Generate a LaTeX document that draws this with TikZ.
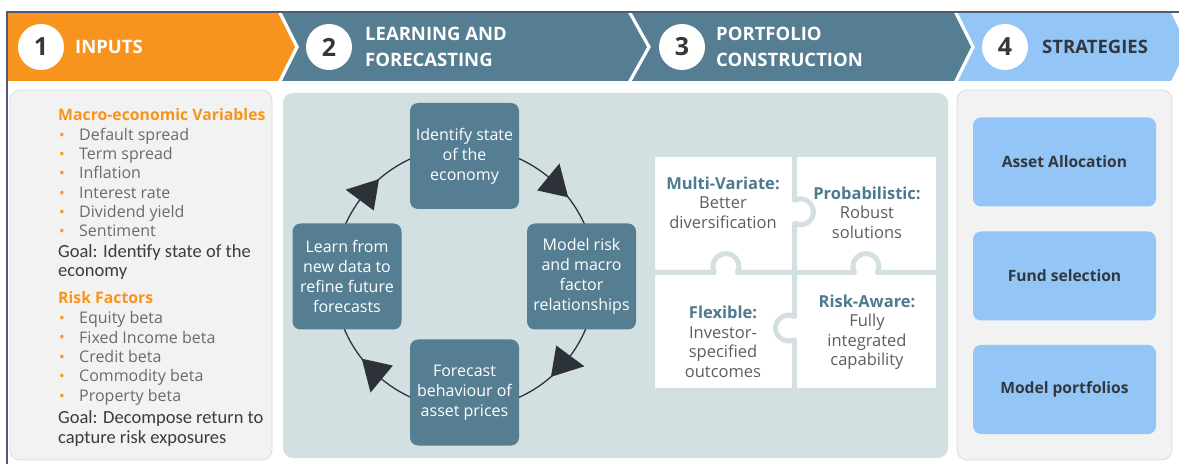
\documentclass[tikz,border=0pt]{standalone}
\usepackage{fontspec}
\setmainfont{Open Sans}
\newfontfamily\calib{Carlito}
\usetikzlibrary{calc}
\definecolor{orng}{HTML}{F7941E}
\definecolor{steel}{HTML}{557E92}
\definecolor{lblue}{HTML}{93C5F6}
\definecolor{panelgray}{HTML}{F2F2F2}
\definecolor{panelborder}{HTML}{DCDCDC}
\definecolor{panelteal}{HTML}{D3E0E1}
\definecolor{arrowc}{HTML}{2D3138}
\definecolor{framec}{HTML}{4F5B73}
\definecolor{darktext}{HTML}{33383E}
\definecolor{graytext}{HTML}{6B6B6B}
\definecolor{goaltext}{HTML}{3C3C3C}
\definecolor{pzhead}{HTML}{4D7A8E}
\definecolor{pztext}{HTML}{5E5E5E}
\tikzset{
  htext/.style={text=white, font=\bfseries\fontsize{18.5}{26}\selectfont, inner sep=0pt},
  numc/.style={circle, fill=white, minimum size=46pt, inner sep=0pt, text=darktext, font=\bfseries\fontsize{25}{26}\selectfont},
  cbox/.style={fill=steel, rounded corners=8pt, minimum width=109pt, minimum height=106pt, inner sep=0pt, text=white, align=center, font=\fontsize{16}{20}\selectfont},
  sbox/.style={fill=lblue, rounded corners=8pt, minimum width=183pt, minimum height=89pt, inner sep=0pt, text=darktext, font=\bfseries\fontsize{15.6}{18}\selectfont},
  ltext/.style={anchor=west, inner sep=0pt, text height=11pt, text depth=3pt, text=graytext, font=\fontsize{16}{18}\selectfont},
  lhead/.style={ltext, text=orng, font=\bfseries\fontsize{15.8}{18}\selectfont},
  lgoal/.style={ltext, text=goaltext, font=\calib\fontsize{18.5}{18}\selectfont},
  lbul/.style={anchor=center, inner sep=0pt, text=orng, font=\fontsize{15}{18}\selectfont},
  piece/.style={fill=white, draw=panelteal, line width=5pt, line join=round},
  ptext/.style={align=center, inner sep=0pt, text=pztext, font=\fontsize{16.5}{19.5}\selectfont},
  cycline/.style={draw=arrowc, line width=1.3pt},
}
\begin{document}
\begin{tikzpicture}[x=1pt,y=1pt]
\useasboundingbox (0,0) rectangle (1179,464);
\fill[white] (0,0) rectangle (1179,464);

% header chevrons
\fill[orng] (7,451) -- (278,451) -- (295,417) -- (278,383) -- (7,383) -- cycle;
\fill[steel] (282,451) -- (628,451) -- (647,417) -- (628,383) -- (282,383) -- (299,417) -- cycle;
\fill[steel] (632,451) -- (954,451) -- (971,417) -- (954,383) -- (632,383) -- (651,417) -- cycle;
\fill[lblue] (958,451) -- (1171,451) -- (1188,417) -- (1171,383) -- (958,383) -- (975,417) -- cycle;
\draw[framec, line width=1.5pt] (7,0) -- (7,452) -- (1179,452);

\node[numc] (n1) at (41,417) {1};
\node[numc] (n2) at (329,417) {2};
\node[numc] (n3) at (682,417) {3};
\node[numc] (n4) at (1005,417) {4};
\node[htext, anchor=west] (h1) at (75,417) {INPUTS};
\node[htext, anchor=west, align=left] (h2) at (365,417) {LEARNING AND\\FORECASTING};
\node[htext, anchor=west, align=left] (h3) at (716,417) {PORTFOLIO\\CONSTRUCTION};
\node[htext, anchor=west, text=darktext] (h4) at (1042,417) {STRATEGIES};

% panels
\draw[fill=panelgray, draw=panelborder, line width=0.8pt, rounded corners=10pt] (10,4) rectangle (272,374);
\fill[panelteal, rounded corners=10pt] (283,6) rectangle (948,371);
\draw[fill=panelgray, draw=panelborder, line width=0.8pt, rounded corners=10pt] (957,4) rectangle (1172,374);

% left panel text
\node[lhead] (t1) at (58,347) {Macro-economic Variables};
\foreach \y/\t [count=\i] in {327/Default spread, 308/Term spread, 289/Inflation, 269.5/Interest rate, 250/Dividend yield, 231/Sentiment}{
  \node[lbul] (ba\i) at (62,\y) {•};
  \node[ltext] (ia\i) at (79,\y) {\t};
}
\node[lgoal] (g1) at (58,210.5) {Goal: Identify state of the};
\node[lgoal] (g2) at (58,191.5) {economy};
\node[lhead] (t2) at (58,164.5) {Risk Factors};
\foreach \y/\t [count=\i] in {144/Equity beta, 125/Fixed Income beta, 105.5/Credit beta, 86/Commodity beta, 66.5/Property beta}{
  \node[lbul] (bb\i) at (62,\y) {•};
  \node[ltext] (ib\i) at (79,\y) {\t};
}
\node[lgoal] (g3) at (58,44.5) {Goal: Decompose return to};
\node[lgoal] (g4) at (58,25) {capture risk exposures};

% cycle
\coordinate (cyc) at (465,186);
\draw[cycline] (cyc) circle[radius=131pt];
\foreach \a in {38,-49,218,131}{
  \fill[arrowc] ($(cyc)+(\a:131pt)$) -- ($(cyc)+({\a+12.5}:131pt)+({\a+12.5}:17.5pt)$) -- ($(cyc)+({\a+12.5}:131pt)+({\a+192.5}:17.5pt)$) -- cycle;
}
\node[cbox] (ctop) at (464.5,308) {Identify state\\of the\\economy};
\node[cbox] (cright) at (581.5,187.5) {Model risk\\and macro\\factor\\relationships};
\node[cbox] (cbot) at (464.5,71.5) {Forecast\\behaviour of\\asset prices};
\node[cbox] (cleft) at (347,187.5) {Learn from\\new data to\\refine future\\forecasts};

% puzzle
\path[piece] (794.5,191.5) rectangle (938.5,309.5);
\path[piece] (652.5,191.5) -- (794.5,191.5) -- (794.5,240.6) arc[start angle=-117.5, end angle=117.5, radius=13pt] -- (794.5,309.5) -- (652.5,309.5) -- cycle;
\path[piece] (652.5,73.5) -- (794.5,73.5) -- (794.5,191.5) -- (737.5,191.5) arc[start angle=-27.5, end angle=207.5, radius=13pt] -- (652.5,191.5) -- cycle;
\path[piece] (794.5,73.5) -- (938.5,73.5) -- (938.5,191.5) -- (877.5,191.5) arc[start angle=-27.5, end angle=207.5, radius=13pt] -- (794.5,191.5) -- (794.5,147.5) arc[start angle=62.5, end angle=297.5, radius=13pt] -- cycle;

\node[ptext] (p1) at (723,261.3) {\textcolor{pzhead}{\bfseries Multi-Variate:}\\Better\\diversification};
\node[ptext] (p2) at (867,251.3) {\textcolor{pzhead}{\bfseries Probabilistic:}\\Robust\\solutions};
\node[ptext] (p3) at (723,122) {\textcolor{pzhead}{\bfseries Flexible:}\\Investor-\\specified\\outcomes};
\node[ptext] (p4) at (867,131.7) {\textcolor{pzhead}{\bfseries Risk-Aware:}\\Fully\\integrated\\capability};

% strategies
\node[sbox] (s1) at (1064.5,302) {Asset Allocation};
\node[sbox] (s2) at (1064.5,188) {Fund selection};
\node[sbox] (s3) at (1064.5,74.5) {Model portfolios};
\end{tikzpicture}
\end{document}
